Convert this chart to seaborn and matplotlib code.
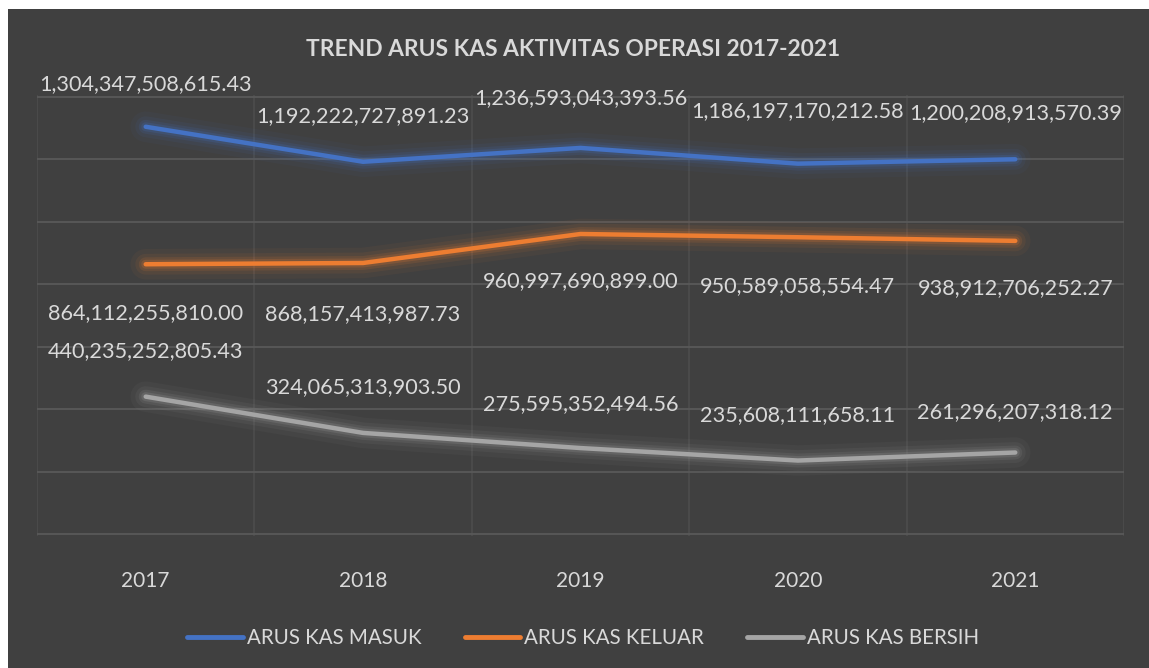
import matplotlib
matplotlib.use("Agg")
import matplotlib.pyplot as plt
import seaborn as sns
import pandas as pd
import numpy as np

years = ["2017", "2018", "2019", "2020", "2021"]
series_names = ["ARUS KAS MASUK", "ARUS KAS KELUAR", "ARUS KAS BERSIH"]
kas_masuk = [1304347508615.43, 1192222727891.23, 1236593043393.56, 1186197170212.58, 1200208913570.39]
kas_keluar = [864112255810.00, 868157413987.73, 960997690899.00, 950589058554.47, 938912706252.27]
kas_bersih = [440235252805.43, 324065313903.50, 275595352494.56, 235608111658.11, 261296207318.12]
colors = ["#4472C4", "#ED7D31", "#A5A5A5"]

BG = "#404040"
TXT = "#D9D9D9"
GRID = "#595959"

sns.set_theme(style="dark")
plt.rcParams['font.family'] = ['Lato', 'DejaVu Sans']

rows = []
for name, vals in zip(series_names, [kas_masuk, kas_keluar, kas_bersih]):
    for i, (y, v) in enumerate(zip(years, vals)):
        rows.append({"idx": i, "year": y, "series": name, "value": v})
df = pd.DataFrame(rows)

fig = plt.figure(figsize=(11.49, 6.68), dpi=100, facecolor=BG)
ax = fig.add_axes([37/1149, (668-536)/668, (1124-37)/1149, (536-95)/668])
ax.set_facecolor(BG)

pal = dict(zip(series_names, colors))
# glow layers
for lw, a in [(22, 0.05), (15, 0.08), (10, 0.12), (6.5, 0.18)]:
    sns.lineplot(data=df, x="idx", y="value", hue="series", palette=pal, ax=ax,
                 linewidth=lw, alpha=a, legend=False, solid_capstyle="round")
sns.lineplot(data=df, x="idx", y="value", hue="series", palette=pal, ax=ax,
             linewidth=3.2, legend=True, solid_capstyle="round")

ax.set_xlim(-0.5, len(years) - 0.5)
ax.set_ylim(-6e9, 1406e9)
ax.set_yticks(np.arange(0, 1400e9 + 1, 200e9))
ax.set_yticklabels([])
ax.tick_params(axis="y", length=0)
ax.set_xticks(range(len(years)))
ax.set_xticklabels(years, color=TXT, fontsize=15)
ax.tick_params(axis="x", length=0, pad=25)
ax.set_xticks(np.arange(-0.5, len(years), 1.0), minor=True)
ax.grid(True, axis="y", which="major", color=GRID, linewidth=1.3)
ax.grid(True, axis="x", which="minor", color="#4d4d4d", linewidth=1.2)
ax.grid(False, axis="x", which="major")
ax.set_xlabel("")
ax.set_ylabel("")
for s in ax.spines.values():
    s.set_visible(False)

def fmt(v):
    return f"{v:,.2f}"

offsets = {
    "ARUS KAS MASUK": [31, 33, 36, 38, 33],
    "ARUS KAS KELUAR": [-35, -37, -34, -35, -34],
    "ARUS KAS BERSIH": [33, 33, 32, 33, 29],
}
for name, vals in zip(series_names, [kas_masuk, kas_keluar, kas_bersih]):
    for i, v in enumerate(vals):
        dy = offsets[name][i]
        ax.annotate(fmt(v), xy=(i, v), xytext=(0, dy), textcoords="offset points",
                    ha="center", va="center", color=TXT, fontsize=15.6)

fig.text(573/1149, 1 - 50/668, "TREND ARUS KAS AKTIVITAS OPERASI 2017-2021",
         ha="center", va="center", color=TXT, fontsize=16.4, fontweight="bold")

leg = ax.legend(loc="center", bbox_to_anchor=(583/1149, 1 - 638/668),
                bbox_transform=fig.transFigure, ncol=3, frameon=False,
                fontsize=14.8, handlelength=2.7, columnspacing=2.1, handletextpad=0.2)
for t in leg.get_texts():
    t.set_color(TXT)
for h in leg.get_lines():
    h.set_linewidth(3.5)

# page strip / border around chart
fig.patches.append(plt.Rectangle((0, 1 - 9/668), 1, 9/668, transform=fig.transFigure,
                                 facecolor="white", edgecolor="none", zorder=0))
fig.patches.append(plt.Rectangle((0, 0), 8/1149, 1, transform=fig.transFigure,
                                 facecolor="white", edgecolor="none", zorder=0))

fig.savefig("out.png", dpi=100, facecolor=BG)
